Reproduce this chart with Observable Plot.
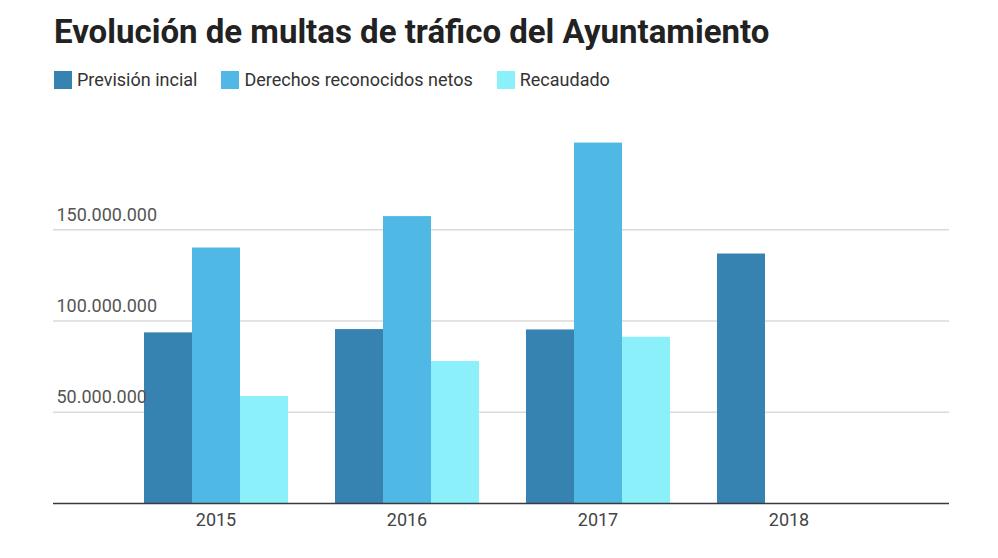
<!DOCTYPE html>
<html>
<head>
<meta charset="utf-8">
<script src="https://cdn.jsdelivr.net/npm/d3@7"></script>
<script src="https://cdn.jsdelivr.net/npm/@observablehq/plot@0.6"></script>
<style>
  html, body { margin: 0; padding: 0; background: #fff; }
  body { width: 998px; height: 558px; position: relative; overflow: hidden; font-family: Roboto, "Noto Sans", sans-serif; }
  #title { position: absolute; left: 54px; top: 12px; font-size: 33px; font-weight: 700; color: #222; white-space: nowrap; }
  #legend { position: absolute; left: 54px; top: 69px; display: flex; align-items: center; font-size: 18px; color: #333; white-space: nowrap; }
  .item { display: flex; align-items: center; margin-right: 24px; }
  .sw { width: 18px; height: 18px; margin-right: 5px; }
  .layer { position: absolute; left: 0; top: 100px; }
  .layer svg { background: transparent !important; }
</style>
</head>
<body>
<div id="title">Evolución de multas de tráfico del Ayuntamiento</div>
<div id="legend"></div>
<div id="back" class="layer"></div>
<div id="mid" class="layer"></div>
<div id="front" class="layer"></div>
<script>
const years = ["2015", "2016", "2017", "2018"];
const series = ["Previsión incial", "Derechos reconocidos netos", "Recaudado"];
const colors = ["#3682b1", "#4fb8e4", "#8cf0fb"];
const prevision = [93.5e6, 95.3e6, 95.1e6, 136.7e6];
const derechos = [140.0e6, 157.2e6, 197.5e6, null];
const recaudado = [58.6e6, 77.8e6, 91.1e6, null];
const yTicks = [50e6, 100e6, 150e6];

const seriesValues = [prevision, derechos, recaudado];
const data = [];
years.forEach((yr, i) => {
  series.forEach((s, j) => {
    const v = seriesValues[j][i];
    if (v != null) data.push({year: yr, series: s, value: v});
  });
});

const fmt = v => d3.format(",")(v).replace(/,/g, ".");

const legend = document.getElementById("legend");
series.forEach((s, i) => {
  const it = document.createElement("div");
  it.className = "item";
  const sw = document.createElement("div");
  sw.className = "sw";
  sw.style.background = colors[i];
  const t = document.createElement("span");
  t.textContent = s;
  it.appendChild(sw); it.appendChild(t);
  legend.appendChild(it);
});

const common = {
  width: 998,
  height: 458,
  marginLeft: 53,
  marginRight: 49,
  marginTop: 38,
  marginBottom: 55,
  style: { fontFamily: "Roboto, sans-serif", background: "transparent" },
  y: { domain: [0, 200e6], axis: null }
};

// Back layer: horizontal gridlines spanning the full frame
const back = Plot.plot({
  ...common,
  marks: [
    Plot.ruleY(yTicks, { y: d => d, stroke: "#dadada", strokeWidth: 1.3 })
  ]
});

// Middle layer: grouped bars (faceted by year) and year labels
const mid = Plot.plot({
  ...common,
  fx: { domain: years, paddingInner: 0.24, paddingOuter: 0.455, align: 0.505, label: null, axis: null },
  x: { domain: series, padding: 0, axis: null },
  color: { domain: series, range: colors },
  marks: [
    Plot.barY(data, { fx: "year", x: "series", y: "value", fill: "series" }),
    Plot.axisFx({ anchor: "bottom", tickSize: 0, tickPadding: 10, fontSize: 18, color: "#444", label: null })
  ]
});

// Front layer: baseline and value labels
const front = Plot.plot({
  ...common,
  marks: [
    Plot.ruleY([0], { stroke: "#3a3a3a", strokeWidth: 1.3 }),
    Plot.text(yTicks, { y: d => d, text: d => fmt(d), frameAnchor: "left", textAnchor: "start", dx: 3, dy: -15, fontSize: 18, fill: "#555" })
  ]
});

document.getElementById("back").appendChild(back);
document.getElementById("mid").appendChild(mid);
document.getElementById("front").appendChild(front);
</script>
</body>
</html>
